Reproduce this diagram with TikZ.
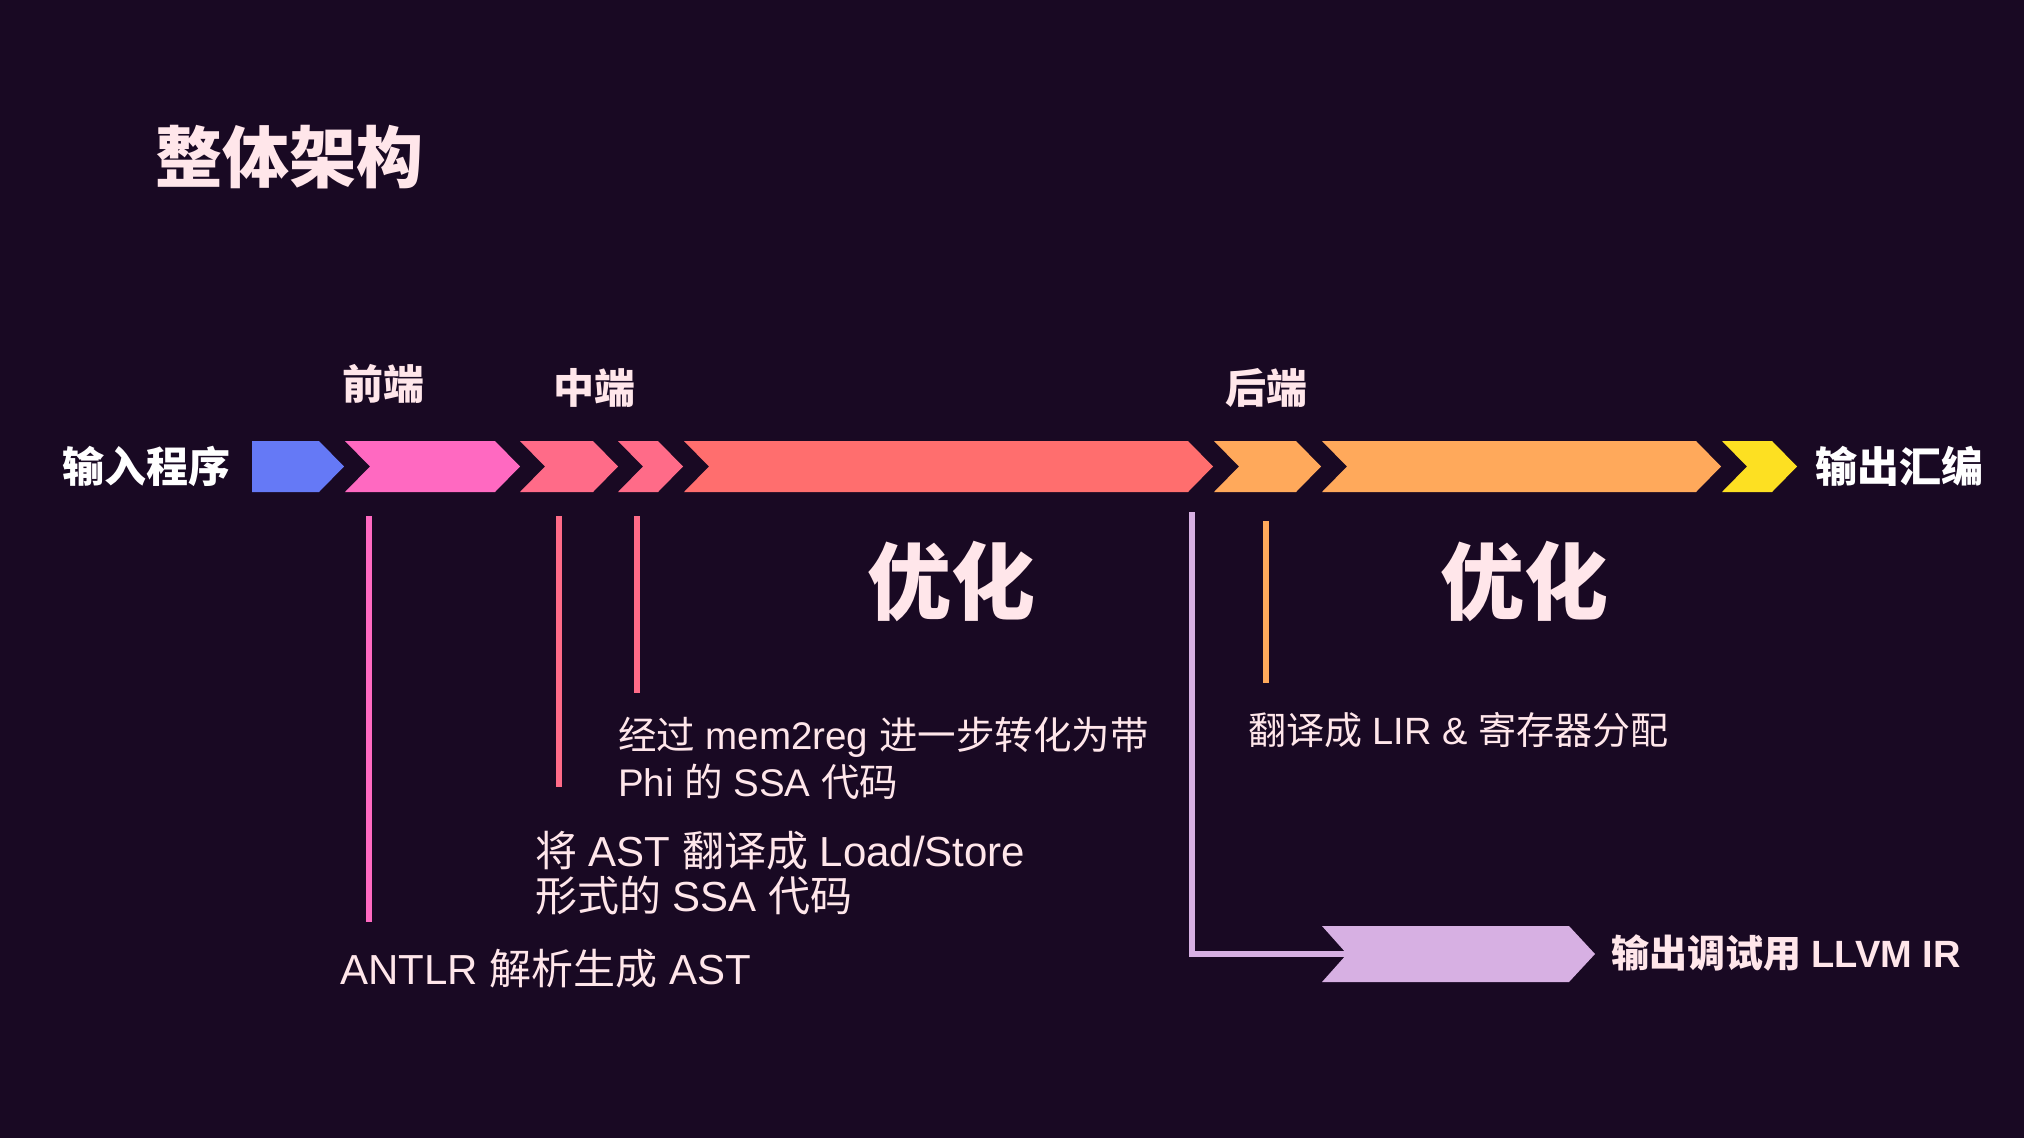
\documentclass[tikz,border=0pt]{standalone}
\usepackage{fontspec}
\setmainfont{Liberation Sans}
\newfontfamily\cjk{Noto Sans CJK SC}
\newcommand\zh[1]{{\cjk #1}}
\definecolor{bg}{HTML}{190923}
\definecolor{cblue}{HTML}{6579F6}
\definecolor{cpink}{HTML}{FF69C1}
\definecolor{crose}{HTML}{FF6B88}
\definecolor{cred}{HTML}{FF6E6E}
\definecolor{corange}{HTML}{FFA95B}
\definecolor{cyellow}{HTML}{FDE022}
\definecolor{cpurple}{HTML}{D7B0E3}
\definecolor{txt}{HTML}{FFE6EA}
\newcommand\mychev[3]{\fill[#1] (#2,441) -- (#3,441) -- ++(25,25.5) -- (#3,492) -- (#2,492) -- ++(25,-25.5) -- cycle;}
\begin{document}
\begin{tikzpicture}[x=1pt,y=-1pt,
  every node/.style={inner sep=0pt,outer sep=0pt},
  titletext/.style={font=\fontsize{67}{80}\selectfont\bfseries\cjk,text=txt,anchor=west},
  sidetext/.style={font=\fontsize{42}{50}\selectfont\bfseries\cjk,text=white,anchor=west},
  stagetext/.style={font=\fontsize{41}{50}\selectfont\bfseries\cjk,text=txt,anchor=west},
  opttext/.style={font=\fontsize{84}{100}\selectfont\bfseries\cjk,text=txt,anchor=west},
  bodytext/.style={text=txt,anchor=north west,align=left},
  lead/.style={line width=6pt}]
\fill[bg] (0,0) rectangle (2024,1138);
\useasboundingbox (0,0) rectangle (2024,1138);

% pipeline
\fill[cblue] (252,441) -- (319,441) -- ++(25,25.5) -- (319,492) -- (252,492) -- cycle;
\mychev{cpink}{345}{495}
\mychev{crose}{520}{593}
\mychev{crose}{618}{658}
\mychev{cred}{684}{1188}
\mychev{corange}{1214}{1296}
\mychev{corange}{1322}{1696}
\mychev{cyellow}{1722}{1772}
% debug output arrow
\fill[cpurple] (1322,926) -- (1569,926) -- (1595,954) -- (1569,982) -- (1322,982) -- (1347,954) -- cycle;

% texts
\node[titletext] (title) at (155,157.5) {整体架构};
\node[sidetext] (input) at (62,466) {输入程序};
\node[sidetext] (output) at (1815,466) {输出汇编};
\node[stagetext] (front) at (342,384) {前端};
\node[stagetext] (middle) at (553,388) {中端};
\node[stagetext] (back) at (1225,387.5) {后端};
\node[opttext] (opt1) at (867,581.5) {优化};
\node[opttext] (opt2) at (1440,581.5) {优化};
\node[bodytext,font=\fontsize{38.5}{47}\selectfont] (mem2reg) at (618,717)
  {\zh{经过} mem2reg \zh{进一步转化为带}\\Phi \zh{的} SSA \zh{代码}};
\node[bodytext,font=\fontsize{42}{45.5}\selectfont] (loadstore) at (535,831)
  {\zh{将} AST \zh{翻译成} Load/Store\\\zh{形式的} SSA \zh{代码}};
\node[bodytext,font=\fontsize{42}{47}\selectfont] (antlr) at (340,949) {ANTLR \zh{解析生成} AST};
\node[bodytext,font=\fontsize{38}{47}\selectfont] (lir) at (1248,712) {\zh{翻译成} LIR \& \zh{寄存器分配}};
\node[font=\fontsize{38}{47}\selectfont\bfseries,text=txt,anchor=west] (llvm) at (1611,953) {\zh{输出调试用} LLVM IR};

% leader lines
\coordinate (a1) at (369,516); \coordinate (a2) at (369,922);
\coordinate (b1) at (558.5,516); \coordinate (b2) at (558.5,787);
\coordinate (c1) at (637,516); \coordinate (c2) at (637,693);
\coordinate (d1) at (1266,521); \coordinate (d2) at (1266,683);
\coordinate (e1) at (1192,512); \coordinate (e2) at (1192,954); \coordinate (e3) at (1347,954);
\draw[lead,cpink] (a1) -- (a2);
\draw[lead,crose] (b1) -- (b2);
\draw[lead,crose] (c1) -- (c2);
\draw[lead,corange] (d1) -- (d2);
\draw[lead,cpurple] (e1) -- (e2) -- (e3);
\end{tikzpicture}
\end{document}
